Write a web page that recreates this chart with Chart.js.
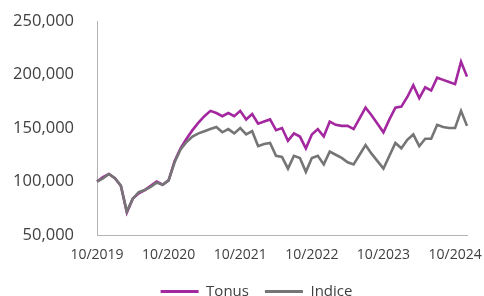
<!DOCTYPE html>
<html>
<head>
<meta charset="utf-8">
<script src="https://cdn.jsdelivr.net/npm/chart.js@4.4.1/dist/chart.umd.min.js"></script>
<style>
  html, body { margin: 0; padding: 0; background: #fff; overflow: hidden; }
  #wrap { position: relative; width: 484px; height: 309px; }
</style>
</head>
<body>
<div id="wrap"><canvas id="chart"></canvas></div>
<script>
// monthly values, 10/2019 .. 12/2024
const startYear = 2019;
const startMonth = 10;
const tickLabels = ["10/2019", "10/2020", "10/2021", "10/2022", "10/2023", "10/2024"];

const tonus = [
  100000, 104000, 107000, 103000, 96000, 71000, 84000, 89000, 92000, 96000, 100000, 97000,
  101000, 119000, 131000, 140000, 148000, 155000, 161000, 166000, 164000, 161000, 164000, 161000,
  166000, 158000, 163000, 154000, 156000, 158000, 148000, 150000, 138000, 145000, 142000, 131000,
  144000, 149000, 142000, 156000, 153000, 152000, 152000, 149000, 159000, 169000, 162000, 154000,
  146000, 158000, 169000, 170000, 179000, 190000, 178000, 188000, 185000, 197000, 195000, 193000,
  191000, 212000, 198000
];
const indice = [
  100000, 103000, 107000, 103000, 96000, 72000, 84000, 90000, 92000, 95000, 99000, 97000,
  101000, 118000, 130000, 137000, 142000, 145000, 147000, 149000, 151000, 146000, 149000, 145000,
  150000, 144000, 147000, 133000, 135000, 136000, 124000, 123000, 112000, 124000, 122000, 109000,
  122000, 124000, 116000, 128000, 125000, 122000, 118000, 116000, 125000, 134000, 126000, 119000,
  112000, 124000, 136000, 131000, 139000, 144000, 133000, 140000, 140000, 153000, 151000, 150000,
  150000, 166000, 152000
];

const months = tonus.map((_, i) => {
  const m = (startMonth - 1 + i) % 12 + 1;
  const y = startYear + Math.floor((startMonth - 1 + i) / 12);
  return m + "/" + y;
});

const textColor = "#404040";
const axisColor = "#b4b4b4";
const font = "'Open Sans', 'Liberation Sans', sans-serif";

// nudge the legend right so it sits where the original one does
const legendShift = {
  id: "legendShift",
  afterLayout(chart) {
    chart.legend.left += 23;
    chart.legend.right += 23;
  },
};

new Chart(document.getElementById("chart"), {
  type: "line",
  data: {
    labels: months,
    datasets: [
      {
        label: "Tonus",
        data: tonus,
        borderColor: "#a3279f",
        backgroundColor: "#a3279f",
        borderWidth: 2.6,
        pointRadius: 0,
        tension: 0,
        order: 1,
      },
      {
        label: "Indice",
        data: indice,
        borderColor: "#757575",
        backgroundColor: "#757575",
        borderWidth: 2.6,
        pointRadius: 0,
        tension: 0,
        order: 0,
      },
    ],
  },
  options: {
    responsive: true,
    maintainAspectRatio: false,
    animation: false,
    layout: { padding: { left: 0, right: 17, top: 21, bottom: 0 } },
    scales: {
      x: {
        offset: false,
        grid: { display: false, drawTicks: false },
        border: { display: true, color: axisColor, width: 1 },
        ticks: {
          autoSkip: false,
          maxRotation: 0,
          padding: 12,
          color: textColor,
          font: { family: font, size: 14 },
          callback: function (v, i) {
            const lab = months[i];
            return tickLabels.includes(lab) ? lab : "";
          },
        },
        afterFit: (s) => { s.height = 33; },
      },
      y: {
        min: 50000,
        max: 250000,
        grid: { display: false, drawTicks: false },
        border: { display: true, color: axisColor, width: 1 },
        ticks: {
          stepSize: 50000,
          padding: 23,
          color: textColor,
          font: { family: font, size: 16.5 },
          callback: (v) => v.toLocaleString("en-US"),
        },
        afterFit: (s) => {
          s.width = 97;
          s.paddingTop = 0;
          s.paddingBottom = 0;
        },
      },
    },
    plugins: {
      tooltip: { enabled: false },
      legend: {
        position: "bottom",
        labels: {
          usePointStyle: true,
          pointStyle: "line",
          pointStyleWidth: 38,
          padding: 16,
          color: textColor,
          font: { family: font, size: 15 },
          sort: (a, b) => a.datasetIndex - b.datasetIndex,
          generateLabels: (chart) => {
            const items = Chart.defaults.plugins.legend.labels.generateLabels(chart);
            items.forEach((it) => { it.lineWidth = 3; it.pointStyle = "line"; });
            return items;
          },
        },
      },
    },
  },
  plugins: [legendShift],
});
</script>
</body>
</html>
